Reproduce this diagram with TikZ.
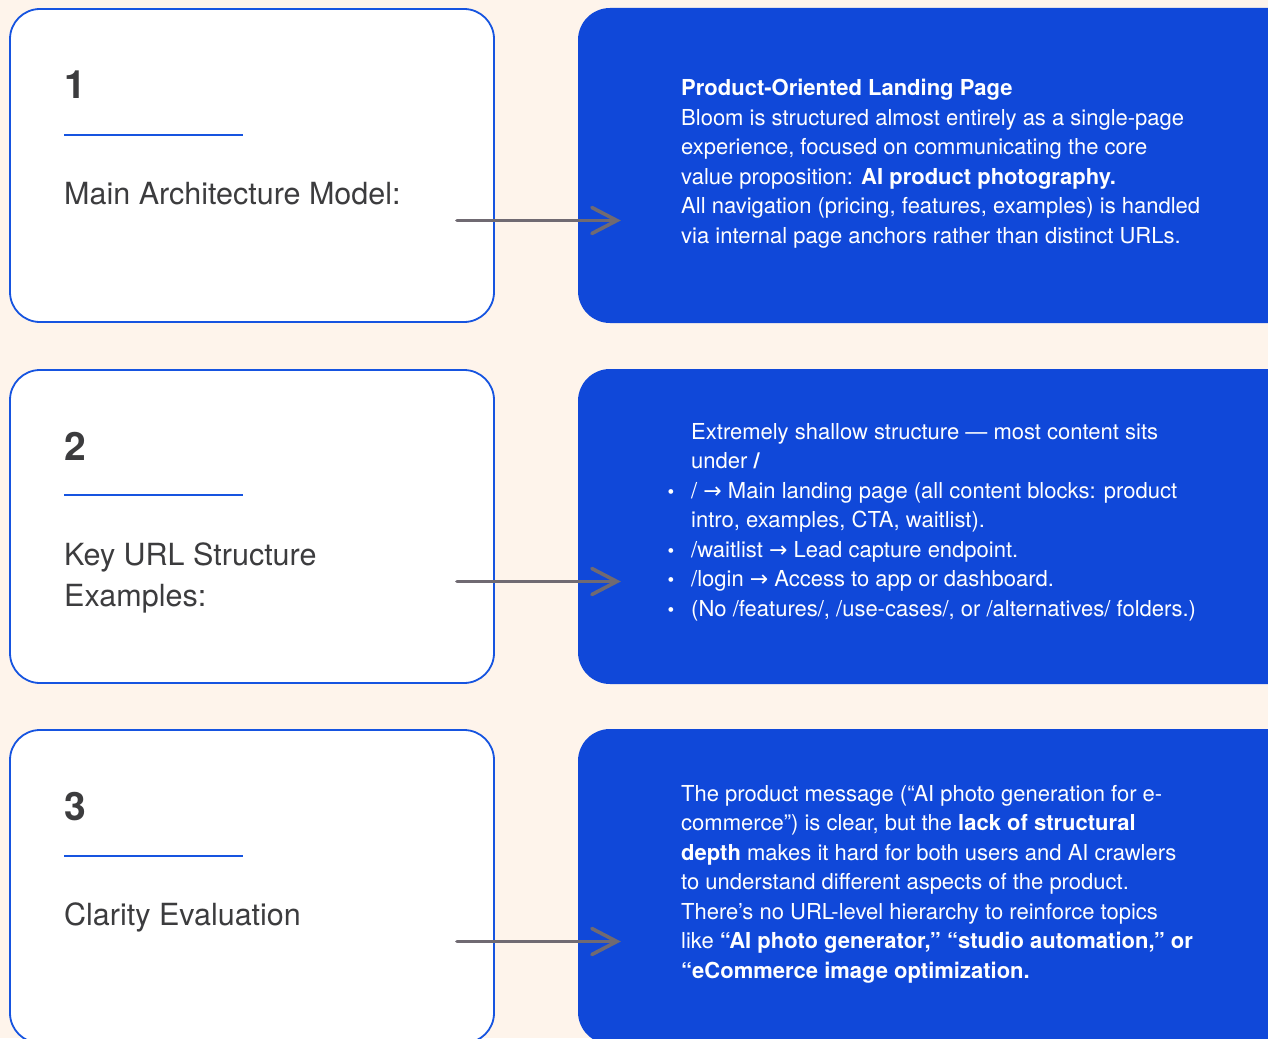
\documentclass[tikz,border=0pt]{standalone}
\usepackage{fontspec}
\setmainfont{TeX Gyre Heros}
\newfontfamily\arrowsym{DejaVu Sans}
\usetikzlibrary{positioning}
\usetikzlibrary{arrows.meta}

\definecolor{cream}{RGB}{254,244,235}
\definecolor{cardblue}{RGB}{16,72,217}
\definecolor{edgeblue}{RGB}{22,84,224}
\definecolor{inkgray}{RGB}{60,60,62}
\definecolor{arrowgray}{RGB}{112,106,114}
\newcommand{\rarr}{{\arrowsym →}}
\newcommand{\bulletmark}{\llap{{\fontsize{19}{19}\selectfont\textbullet}\hspace{17pt}}}

\begin{document}
\begin{tikzpicture}[x=1pt,y=-1pt,
  stepcard/.style={draw=edgeblue,line width=1.8pt,fill=white,rounded corners=30pt,minimum width=484pt,minimum height=313pt},
  infocard/.style={fill=cardblue,rounded corners=32pt,minimum width=740pt,minimum height=315pt},
  stepnum/.style={anchor=base west,inner sep=0pt,text=inkgray,font=\fontsize{39}{39}\selectfont\bfseries},
  steplabel/.style={anchor=base west,inner sep=0pt,align=left,text=inkgray,font=\fontsize{30.5}{41}\selectfont},
  infotext/.style={anchor=base west,inner sep=0pt,align=left,text=white,font=\fontsize{22}{29.5}\selectfont},
  linkarrow/.style={draw=arrowgray,line width=3.6pt,line cap=round,-{Straight Barb[length=25pt,width=26pt,line cap=round]}}
]
\useasboundingbox (0,0) rectangle (1268,1038);
\clip (0,0) rectangle (1268,1038);
\fill[cream] (0,0) rectangle (1268,1038);

% cards
\node[stepcard] (l1) at (252,165.5) {};
\node[stepcard] (l2) at (252,526.5) {};
\node[stepcard] (l3) at (252,886.5) {};
\node[infocard] (r1) at (948,165.5) {};
\node[infocard] (r2) at (948,526.5) {};
\node[infocard] (r3) at (948,886.5) {};

% step numbers and titles (base = last line)
\node[stepnum] (n1) at (64,99) {1};
\node[stepnum] (n2) at (64,460) {2};
\node[stepnum] (n3) at (64,820) {3};
\draw[edgeblue,line width=2pt] (64,134.5) -- (243,134.5);
\draw[edgeblue,line width=2pt] (64,494.5) -- (243,494.5);
\draw[edgeblue,line width=2pt] (64,855.5) -- (243,855.5);
\node[steplabel] (t1) at (64,204) {Main Architecture Model:};
\node[steplabel] (t2) at (64,606) {Key URL Structure\\Examples:};
\node[steplabel] (t3) at (64,925) {Clarity Evaluation};

% details
\node[infotext] (d1) at (681,243) {\textbf{Product-Oriented Landing Page}\\
Bloom is structured almost entirely as a single-page\\
experience, focused on communicating the core\\
value proposition: \textbf{AI product photography.}\\
All navigation (pricing, features, examples) is handled\\
via internal page anchors rather than distinct URLs.};
\node[infotext] (d2) at (691,616) {Extremely shallow structure — most content sits\\
under \textbf{/}\\
\bulletmark/ \rarr{} Main landing page (all content blocks: product\\
intro, examples, CTA, waitlist).\\
\bulletmark/waitlist \rarr{} Lead capture endpoint.\\
\bulletmark/login \rarr{} Access to app or dashboard.\\
\bulletmark(No /features/, /use-cases/, or /alternatives/ folders.)};
\node[infotext] (d3) at (681,978) {The product message (“AI photo generation for e-\\
commerce”) is clear, but the \textbf{lack of structural}\\
\textbf{depth} makes it hard for both users and AI crawlers\\
to understand different aspects of the product.\\
There’s no URL-level hierarchy to reinforce topics\\
like \textbf{“AI photo generator,” “studio automation,” or}\\
\textbf{“eCommerce image optimization.}};

% arrows
\draw[linkarrow] ([xshift=-38pt,yshift=-55pt]l1.east) -- ([xshift=43pt,yshift=-55pt]r1.west);
\draw[linkarrow] ([xshift=-38pt,yshift=-55pt]l2.east) -- ([xshift=43pt,yshift=-55pt]r2.west);
\draw[linkarrow] ([xshift=-38pt,yshift=-55pt]l3.east) -- ([xshift=43pt,yshift=-55pt]r3.west);
\end{tikzpicture}
\end{document}
